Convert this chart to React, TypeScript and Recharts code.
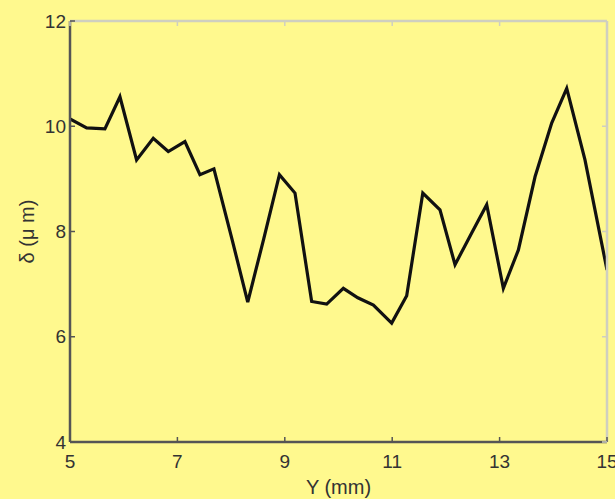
import { LineChart, Line, XAxis, YAxis } from 'recharts'

// position along Y (mm) and measured deviation δ (µm)
const yPos = [
  5.0, 5.31, 5.65, 5.93, 6.24, 6.55, 6.83, 7.14, 7.42, 7.68, 8.02, 8.31,
  8.61, 8.9, 9.19, 9.5, 9.78, 10.09, 10.36, 10.65, 10.99, 11.27, 11.57,
  11.89, 12.17, 12.48, 12.76, 13.07, 13.35, 13.66, 13.97, 14.25, 14.59, 15.0
]
const delta = [
  10.14, 9.97, 9.95, 10.56, 9.36, 9.77, 9.52, 9.71, 9.08, 9.19, 7.84, 6.66,
  7.87, 9.08, 8.73, 6.67, 6.62, 6.92, 6.74, 6.6, 6.26, 6.78, 8.73,
  8.41, 7.37, 7.97, 8.51, 6.92, 7.65, 9.04, 10.06, 10.72, 9.36, 7.27
]
const xTicks = [5, 7, 9, 11, 13, 15]
const yTicks = [4, 6, 8, 10, 12]

const data = yPos.map((y, i) => ({ y, d: delta[i] }))

const BG = '#FFF98E'
const AXIS = '#555555'
const BOX = '#cfcfc0'
const TEXT = '#333333'
const FONT = '"Liberation Sans", Arial, sans-serif'

const BottomTick = ({ x, y, payload }: any) => (
  <g>
    <line x1={x} x2={x} y1={y} y2={y - 5} stroke={AXIS} strokeWidth={1.5} />
    <text x={x} y={y + 26} textAnchor="middle" fill={TEXT} fontSize={19} fontFamily={FONT}>
      {payload.value}
    </text>
  </g>
)

const LeftTick = ({ x, y, payload }: any) => (
  <g>
    <line x1={x} x2={x + 5} y1={y} y2={y} stroke={AXIS} strokeWidth={1.5} />
    <text x={x - 4} y={y} dy="0.35em" textAnchor="end" fill={TEXT} fontSize={19} fontFamily={FONT}>
      {payload.value}
    </text>
  </g>
)

const TopTick = ({ x, y }: any) => (
  <line x1={x} x2={x} y1={y} y2={y + 5} stroke={BOX} strokeWidth={1.5} />
)

const RightTick = ({ x, y }: any) => (
  <line x1={x} x2={x - 5} y1={y} y2={y} stroke={BOX} strokeWidth={1.5} />
)

export default function App() {
  return (
    <div style={{ position: 'absolute', left: 0, top: 0, width: 615, height: 499, background: BG }}>
      <LineChart width={615} height={499} data={data} margin={{ top: 20, right: 7, left: 0, bottom: 0 }}>
        <XAxis
          dataKey="y"
          type="number"
          domain={[5, 15]}
          ticks={xTicks}
          allowDataOverflow
          height={57}
          tickSize={0}
          tickMargin={0}
          axisLine={{ stroke: AXIS, strokeWidth: 2.5 }}
          tickLine={false}
          tick={<BottomTick />}
          label={{
            value: 'Y (mm)',
            position: 'insideBottom',
            offset: 5,
            style: { fontSize: 20, fill: TEXT, fontFamily: FONT }
          }}
        />
        <XAxis
          xAxisId="top"
          orientation="top"
          dataKey="y"
          type="number"
          domain={[5, 15]}
          ticks={xTicks}
          allowDataOverflow
          height={1}
          tickSize={0}
          tickMargin={0}
          axisLine={{ stroke: BOX, strokeWidth: 2.5 }}
          tickLine={false}
          tick={<TopTick />}
        />
        <YAxis
          type="number"
          domain={[4, 12]}
          ticks={yTicks}
          allowDataOverflow
          width={70}
          tickSize={0}
          tickMargin={0}
          axisLine={{ stroke: AXIS, strokeWidth: 2.5 }}
          tickLine={false}
          tick={<LeftTick />}
          label={{
            value: 'δ (μ m)',
            angle: -90,
            position: 'insideLeft',
            offset: 27,
            style: { textAnchor: 'middle', fontSize: 20, fill: TEXT, fontFamily: FONT }
          }}
        />
        <YAxis
          yAxisId="right"
          orientation="right"
          type="number"
          domain={[4, 12]}
          ticks={yTicks}
          allowDataOverflow
          width={1}
          tickSize={0}
          tickMargin={0}
          axisLine={{ stroke: BOX, strokeWidth: 2.5 }}
          tickLine={false}
          tick={<RightTick />}
        />
        {/* invisible series so the top/right frame axes get drawn */}
        <Line
          xAxisId="top"
          yAxisId="right"
          dataKey="d"
          stroke="none"
          dot={false}
          activeDot={false}
          isAnimationActive={false}
        />
        <Line
          dataKey="d"
          type="linear"
          stroke="#111111"
          strokeWidth={3.2}
          dot={false}
          isAnimationActive={false}
        />
      </LineChart>
    </div>
  )
}
